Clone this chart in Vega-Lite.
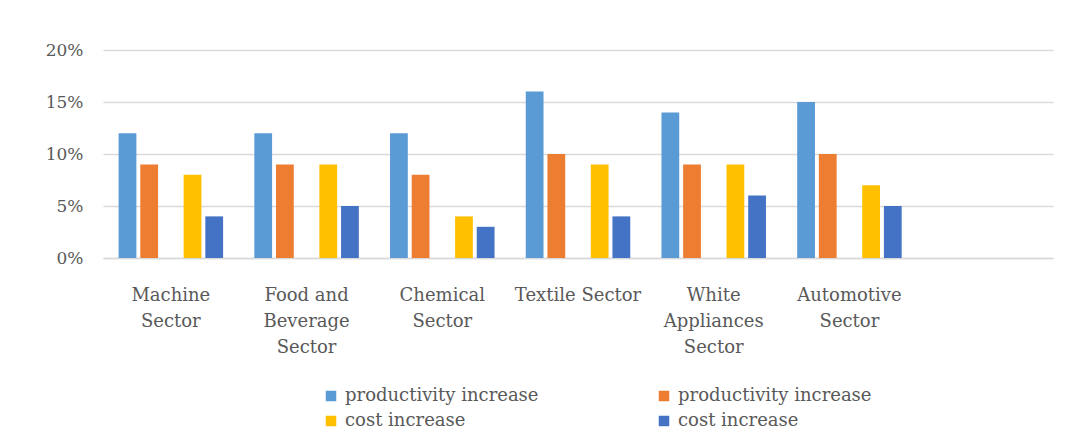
{
  "$schema": "https://vega.github.io/schema/vega-lite/v6.json",
  "width": 950,
  "height": 208,
  "autosize": {"type": "none"},
  "padding": {"left": 103, "top": 50, "right": 18, "bottom": 189},
  "background": "white",
  "config": {
    "font": "DejaVu Serif",
    "view": {"stroke": null}
  },
  "data": {
    "values": [
      {"sector": "Machine Sector", "series": "s1", "value": 0.12},
      {"sector": "Machine Sector", "series": "s2", "value": 0.09},
      {"sector": "Machine Sector", "series": "s4", "value": 0.08},
      {"sector": "Machine Sector", "series": "s5", "value": 0.04},
      {"sector": "Food and Beverage Sector", "series": "s1", "value": 0.12},
      {"sector": "Food and Beverage Sector", "series": "s2", "value": 0.09},
      {"sector": "Food and Beverage Sector", "series": "s4", "value": 0.09},
      {"sector": "Food and Beverage Sector", "series": "s5", "value": 0.05},
      {"sector": "Chemical Sector", "series": "s1", "value": 0.12},
      {"sector": "Chemical Sector", "series": "s2", "value": 0.08},
      {"sector": "Chemical Sector", "series": "s4", "value": 0.04},
      {"sector": "Chemical Sector", "series": "s5", "value": 0.03},
      {"sector": "Textile Sector", "series": "s1", "value": 0.16},
      {"sector": "Textile Sector", "series": "s2", "value": 0.10},
      {"sector": "Textile Sector", "series": "s4", "value": 0.09},
      {"sector": "Textile Sector", "series": "s5", "value": 0.04},
      {"sector": "White Appliances Sector", "series": "s1", "value": 0.14},
      {"sector": "White Appliances Sector", "series": "s2", "value": 0.09},
      {"sector": "White Appliances Sector", "series": "s4", "value": 0.09},
      {"sector": "White Appliances Sector", "series": "s5", "value": 0.06},
      {"sector": "Automotive Sector", "series": "s1", "value": 0.15},
      {"sector": "Automotive Sector", "series": "s2", "value": 0.10},
      {"sector": "Automotive Sector", "series": "s4", "value": 0.07},
      {"sector": "Automotive Sector", "series": "s5", "value": 0.05}
    ]
  },
  "mark": {"type": "bar"},
  "encoding": {
    "x": {
      "field": "sector",
      "type": "nominal",
      "sort": null,
      "scale": {
        "domain": ["Machine Sector", "Food and Beverage Sector", "Chemical Sector", "Textile Sector", "White Appliances Sector", "Automotive Sector", "blank"],
        "paddingInner": 0.23,
        "paddingOuter": 0.115
      },
      "axis": {
        "title": null,
        "labelAngle": 0,
        "labelFontSize": 18,
        "labelColor": "#595959",
        "labelPadding": 28,
        "labelBaseline": "top",
        "labelLineHeight": 26,
        "labelLimit": 300,
        "ticks": false,
        "domain": true,
        "domainColor": "#D9D9D9",
        "domainWidth": 1.5,
        "labelExpr": "datum.value == 'Machine Sector' ? ['Machine', 'Sector'] : datum.value == 'Food and Beverage Sector' ? ['Food and', 'Beverage', 'Sector'] : datum.value == 'Chemical Sector' ? ['Chemical', 'Sector'] : datum.value == 'Textile Sector' ? 'Textile Sector' : datum.value == 'White Appliances Sector' ? ['White', 'Appliances', 'Sector'] : datum.value == 'Automotive Sector' ? ['Automotive', 'Sector'] : ''"
      }
    },
    "xOffset": {
      "field": "series",
      "type": "nominal",
      "scale": {"domain": ["s1", "s2", "s3", "s4", "s5"], "paddingInner": 0.18}
    },
    "y": {
      "field": "value",
      "type": "quantitative",
      "scale": {"domain": [0, 0.2]},
      "axis": {
        "title": null,
        "format": ".0%",
        "values": [0, 0.05, 0.1, 0.15, 0.2],
        "labelFontSize": 17,
        "labelColor": "#595959",
        "labelPadding": 20,
        "labelOverlap": false,
        "ticks": false,
        "domain": false,
        "gridColor": "#D9D9D9",
        "gridWidth": 1.5
      }
    },
    "color": {
      "field": "series",
      "type": "nominal",
      "scale": {
        "domain": ["s1", "s2", "s4", "s5"],
        "range": ["#5B9BD5", "#ED7D31", "#FFC000", "#4472C4"]
      },
      "legend": {
        "title": null,
        "orient": "none",
        "legendX": 219,
        "legendY": 337,
        "direction": "horizontal",
        "columns": 2,
        "columnPadding": 116,
        "rowPadding": 7,
        "symbolType": "square",
        "symbolSize": 110,
        "symbolOpacity": 1,
        "symbolStrokeWidth": 0,
        "labelFontSize": 18,
        "labelLimit": 400,
        "labelColor": "#595959",
        "labelOffset": 5,
        "labelExpr": "datum.value == 's1' || datum.value == 's2' ? 'productivity increase' : 'cost increase'"
      }
    }
  }
}
